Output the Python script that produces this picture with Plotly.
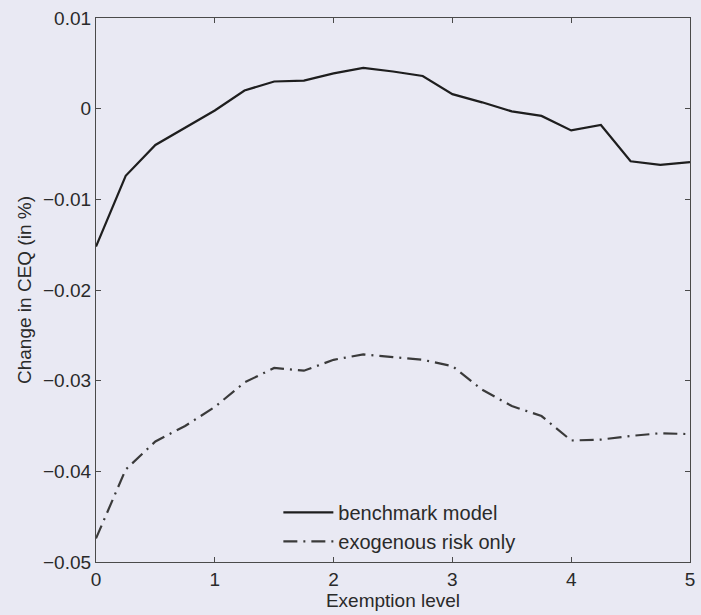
import plotly.graph_objects as go

exemption = [0, 0.25, 0.5, 0.75, 1.0, 1.25, 1.5, 1.75, 2.0, 2.25, 2.5, 2.75,
             3.0, 3.25, 3.5, 3.75, 4.0, 4.25, 4.5, 4.75, 5.0]
benchmark = [-0.0152, -0.0074, -0.0040, -0.0021, -0.0002, 0.0020, 0.0030, 0.0031,
             0.0039, 0.0045, 0.0041, 0.0036, 0.0016, 0.0007, -0.0003, -0.0008,
             -0.0024, -0.0018, -0.0058, -0.0062, -0.0059]
exogenous = [-0.0474, -0.0398, -0.0367, -0.0350, -0.0329, -0.0302, -0.0286, -0.0289,
             -0.0277, -0.0271, -0.0274, -0.0277, -0.0284, -0.0310, -0.0328, -0.0339,
             -0.0366, -0.0365, -0.0361, -0.0358, -0.0359]

y_ticks = [0.01, 0, -0.01, -0.02, -0.03, -0.04, -0.05]
y_labels = ["0.01", "0", "\u22120.01", "\u22120.02", "\u22120.03", "\u22120.04", "\u22120.05"]
x_ticks = [0, 1, 2, 3, 4, 5]

bg = "#e9e9f3"
font = "Liberation Sans, Arial, sans-serif"

fig = go.Figure()
fig.add_trace(go.Scatter(x=exemption, y=benchmark, mode="lines", name="benchmark model",
                         line=dict(color="#1e1e1e", width=2.2)))
fig.add_trace(go.Scatter(x=exemption, y=exogenous, mode="lines", name="exogenous risk only",
                         line=dict(color="#3a3a3a", width=2.2, dash="14px,6px,2px,6px")))

axis_common = dict(showgrid=False, zeroline=False, showline=True, linecolor="#4a4a4a",
                   linewidth=1.2, mirror="ticks", ticks="inside", ticklen=5,
                   tickcolor="#4a4a4a", tickfont=dict(size=19, color="#2a2a2a", family=font))

fig.update_layout(
    width=701, height=615,
    margin=dict(l=96, r=6, t=18, b=53),
    paper_bgcolor=bg, plot_bgcolor=bg,
    font=dict(family=font, size=19, color="#2a2a2a"),
    showlegend=True,
    legend=dict(x=0.307, y=0.127, xanchor="left", yanchor="top",
                bgcolor="rgba(0,0,0,0)", borderwidth=0,
                font=dict(size=20, family=font), tracegroupgap=0,
                itemwidth=50),
    xaxis=dict(range=[0, 5], tickvals=x_ticks, ticktext=[str(v) for v in x_ticks],
               title=dict(text="Exemption level", standoff=2, font=dict(size=19)),
               **axis_common),
    yaxis=dict(range=[-0.05, 0.01], tickvals=y_ticks, ticktext=y_labels,
               title=dict(text="Change in CEQ (in %)", standoff=6, font=dict(size=19)),
               **axis_common),
)

fig.write_html("out.html")
